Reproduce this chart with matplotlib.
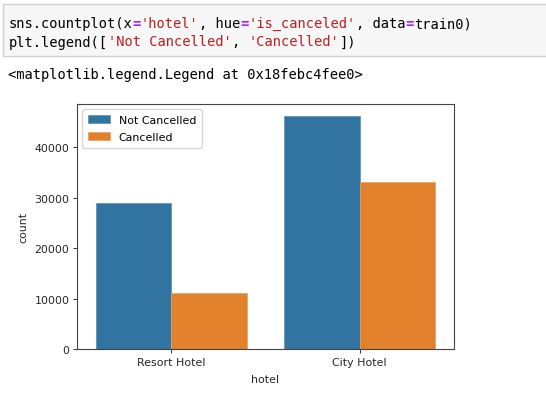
import matplotlib
matplotlib.use("Agg")
import matplotlib.pyplot as plt
from matplotlib.patches import Rectangle

# Data
hotels = ['Resort Hotel', 'City Hotel']
not_cancelled = [28938, 46228]
cancelled = [11122, 33102]
legend_labels = ['Not Cancelled', 'Cancelled']
yticks = [0, 10000, 20000, 30000, 40000]

W, H = 546, 402
fig = plt.figure(figsize=(W / 100, H / 100), dpi=100)
fig.patch.set_facecolor('white')

def fx(px):
    return px / W

def fy(py):
    return 1 - py / H

# Code cell box
fig.patches.append(Rectangle((fx(3), fy(57)), fx(600), (57 - 5) / H,
                             transform=fig.transFigure, facecolor='#f7f7f7',
                             edgecolor='#cfcfcf', lw=1.0, zorder=0))

mono = 'DejaVu Sans Mono'
fs_code = 9.9
cw = 0.602 * fs_code * 100 / 72  # char width in px

BLK, PUR, RED = '#000000', '#AA22FF', '#BA2121'
line1 = [("sns.countplot(x", BLK), ("=", PUR), ("'hotel'", RED), (", hue", BLK),
         ("=", PUR), ("'is_canceled'", RED), (", data", BLK), ("=", PUR), ("train0)", BLK)]
line2 = [("plt.legend([", BLK), ("'Not Cancelled'", RED), (", ", BLK),
         ("'Cancelled'", RED), ("])", BLK)]

def draw_line(segs, x0, base):
    n = 0
    for s, c in segs:
        fig.text(fx(x0 + n * cw), fy(base), s, family=mono, fontsize=fs_code,
                 color=c, va='baseline', ha='left',
                 fontweight='bold' if c == PUR else 'normal')
        n += len(s)

draw_line(line1, 8.5, 28)
draw_line(line2, 8.5, 46.5)
draw_line([("<matplotlib.legend.Legend at 0x18febc4fee0>", BLK)], 8.5, 78.5)

# Chart
ax = fig.add_axes([fx(77), fy(350), fx(454 - 77), (350 - 105) / H])
blue = '#3274a1'
orange = '#e1812c'
x = list(range(len(hotels)))
w = 0.4
ax.bar([i - w / 2 for i in x], not_cancelled, width=w, color=blue,
       edgecolor='#5a8fb5', lw=0.5, label=legend_labels[0])
ax.bar([i + w / 2 for i in x], cancelled, width=w, color=orange,
       edgecolor='#eaa060', lw=0.5, label=legend_labels[1])
ax.set_xlim(-0.5, 1.5)
ax.set_ylim(0, max(not_cancelled + cancelled) * 1.05)
ax.set_xticks(x)
ax.set_xticklabels(hotels)
ax.set_yticks(yticks)
ax.set_yticklabels([str(v) for v in yticks])
fs = 7.9
ax.tick_params(labelsize=fs, length=3, width=0.7, colors='#333333', labelcolor='#262626', pad=2.5)
for sp in ax.spines.values():
    sp.set_color('#444444')
    sp.set_linewidth(0.8)
ax.set_xlabel('hotel', fontsize=fs, color='#262626', labelpad=5)
ax.set_ylabel('count', fontsize=fs, color='#262626', labelpad=4)
ax.legend(loc='upper left', fontsize=fs, frameon=True, handlelength=2.0,
          borderpad=0.5, labelspacing=0.65)

fig.savefig('out.png', dpi=100)
